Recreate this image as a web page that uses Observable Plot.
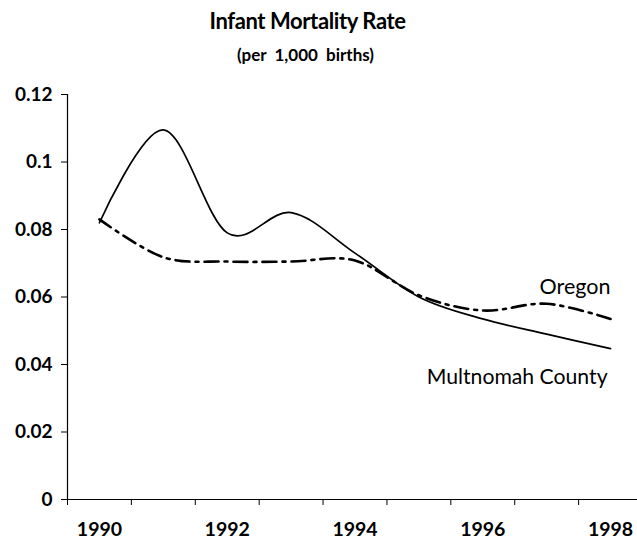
<!DOCTYPE html>
<html>
<head>
<meta charset="utf-8">
<script src="https://cdn.jsdelivr.net/npm/d3@7"></script>
<script src="https://cdn.jsdelivr.net/npm/@observablehq/plot@0.6"></script>
<style>
  html, body { margin: 0; padding: 0; background: #fff; }
  #wrap { width: 637px; height: 542px; position: relative; font-family: Lato, "Open Sans", sans-serif; }
  #title { position: absolute; left: 0; width: 615px; top: 7px; text-align: center; font-weight: bold; font-size: 22px; color: #000; letter-spacing: -0.4px; }
  #subtitle { position: absolute; left: 0; width: 611px; top: 44px; text-align: center; font-weight: bold; font-size: 17px; color: #000; word-spacing: 4px; }
  #chart { position: absolute; left: 0; top: 80px; }
</style>
</head>
<body>
<div id="wrap">
  <div id="title">Infant Mortality Rate</div>
  <div id="subtitle">(per 1,000 births)</div>
  <div id="chart"></div>
</div>
<script>
const years = [1990, 1991, 1992, 1993, 1994, 1995, 1996, 1997, 1998];
const multnomah = [0.082, 0.1095, 0.079, 0.085, 0.073, 0.060, 0.0535, 0.049, 0.0447];
const oregon = [0.083, 0.0718, 0.0705, 0.0705, 0.0708, 0.0605, 0.056, 0.058, 0.0535];
const yTicks = [0, 0.02, 0.04, 0.06, 0.08, 0.1, 0.12];
const xLabelYears = [1990, 1992, 1994, 1996, 1998];
const seriesNames = ["Multnomah County", "Oregon"];

const bounds = years.map(y => y - 0.5).concat([years[years.length - 1] + 0.5]);
const rows = (vals, name) => years.map((yr, i) => ({year: yr, value: vals[i], series: name}));
const mData = rows(multnomah, seriesNames[0]);
const oData = rows(oregon, seriesNames[1]);
const smooth = d3.curveCatmullRom.alpha(0);
const font = "Lato, 'Open Sans', sans-serif";

const chart = Plot.plot({
  width: 637,
  height: 462,
  marginTop: 14,
  marginBottom: 43,
  marginLeft: 67,
  marginRight: 0,
  style: {fontFamily: font, background: "#fff", color: "#000"},
  x: {domain: [bounds[0], bounds[bounds.length - 1]], range: [67, 642]},
  y: {domain: [0, 0.12]},
  marks: [
    Plot.axisY({ticks: yTicks, tickSize: 6, tickPadding: 9, tickFormat: d => String(d), fontSize: 19, fontWeight: "bold", label: null, stroke: "#000"}),
    Plot.axisX({ticks: bounds, tickSize: 6, tickFormat: () => "", label: null}),
    Plot.axisX({ticks: xLabelYears, tickSize: 0, tickPadding: 23, tickFormat: d => String(d), fontSize: 19.5, fontWeight: "bold", label: null}),
    Plot.frame({anchor: "left", stroke: "#000", strokeWidth: 1.2}),
    Plot.frame({anchor: "bottom", stroke: "#000", strokeWidth: 1.2}),
    Plot.line(oData, {x: "year", y: "value", curve: smooth, stroke: "#000", strokeWidth: 2.6, strokeDasharray: "14,6,3,6"}),
    Plot.line(mData, {x: "year", y: "value", curve: smooth, stroke: "#000", strokeWidth: 1.7}),
    Plot.text(oData.slice(-1), {x: "year", y: "value", text: "series", textAnchor: "end", dx: 0, dy: -32, fontSize: 21.5, fill: "#000"}),
    Plot.text(mData.slice(-1), {x: "year", y: "value", text: "series", textAnchor: "end", dx: -3, dy: 29, fontSize: 21.2, fill: "#000"})
  ]
});
document.getElementById("chart").appendChild(chart);
</script>
</body>
</html>
